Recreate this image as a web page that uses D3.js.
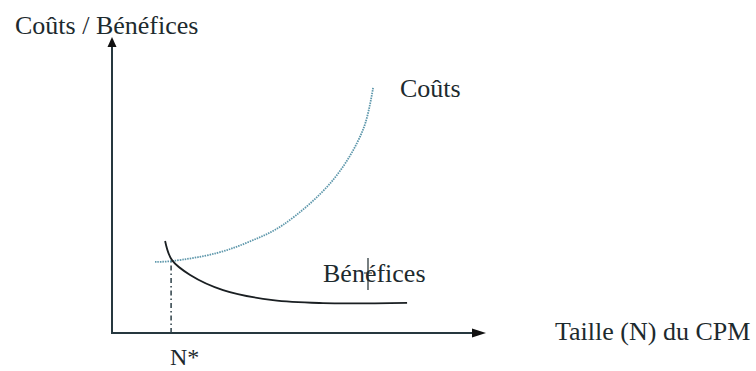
<!DOCTYPE html>
<html>
<head>
<meta charset="utf-8">
<script src="https://cdn.jsdelivr.net/npm/d3@7"></script>
<style>
  html, body { margin: 0; padding: 0; background: #fff; }
  svg text { font-family: "Liberation Serif", "Times New Roman", serif; fill: #1d2a2e; }
</style>
</head>
<body>
<svg id="chart" width="756" height="371"></svg>
<script>
// values (arbitrary units, axis 0..10)
const coutsN    = [1.15, 1.6, 2.8, 3.7, 4.57, 5.91, 6.71, 6.98];
const coutsV    = [2.40, 2.43, 2.70, 3.10, 3.65, 5.17, 6.86, 8.28];
const beneficesN = [1.42, 1.6, 2.09, 2.97, 4.30, 5.64, 7.89];
const beneficesV = [3.11, 2.47, 1.96, 1.45, 1.11, 1.01, 1.02];
const nStar = 1.58;
const nStarV = 2.5;

const labels = {
    yAxis: 'Coûts / Bénéfices',
    xAxis: 'Taille (N) du CPM',
    couts: 'Coûts',
    benefices: 'Bénéfices',
    nStar: 'N*'
};

const svg = d3.select('#chart');

const xScale = d3.scaleLinear().domain([0, 10]).range([112, 486]);
const yScale = d3.scaleLinear().domain([0, 10]).range([333, 37]);

const x0 = xScale(0), y0 = yScale(0);
const xEnd = xScale.range()[1], yEnd = yScale.range()[1];
const axisColor = '#26383f';

// axes
svg.append('line')
    .attr('x1', x0).attr('y1', y0 + 1)
    .attr('x2', x0).attr('y2', yEnd + 8)
    .attr('stroke', axisColor).attr('stroke-width', 2);
svg.append('line')
    .attr('x1', x0 - 1).attr('y1', y0)
    .attr('x2', xEnd - 12).attr('y2', y0)
    .attr('stroke', axisColor).attr('stroke-width', 2);

// arrow heads
svg.append('path')
    .attr('d', `M${x0},${yEnd} L${x0 - 4.5},${yEnd + 10} L${x0 + 4.5},${yEnd + 10} Z`)
    .attr('fill', '#111');
svg.append('path')
    .attr('d', `M${xEnd},${y0} L${xEnd - 14},${y0 - 4.5} L${xEnd - 14},${y0 + 4.5} Z`)
    .attr('fill', '#111');

// N* dash-dot guide
svg.append('line')
    .attr('x1', xScale(nStar)).attr('y1', y0)
    .attr('x2', xScale(nStar)).attr('y2', yScale(nStarV))
    .attr('stroke', '#2d3f47').attr('stroke-width', 1.5)
    .attr('stroke-dasharray', '5,3,1.5,3');

const line = d3.line()
    .x(d => xScale(d[0]))
    .y(d => yScale(d[1]))
    .curve(d3.curveCatmullRom.alpha(0.5));

// costs curve (dotted)
svg.append('path')
    .datum(d3.zip(coutsN, coutsV))
    .attr('d', line)
    .attr('fill', 'none')
    .attr('stroke', '#5d97ab')
    .attr('stroke-width', 1.8)
    .attr('stroke-dasharray', '1.5,1');

// benefits curve (solid)
svg.append('path')
    .datum(d3.zip(beneficesN, beneficesV))
    .attr('d', line)
    .attr('fill', 'none')
    .attr('stroke', '#1a1f22')
    .attr('stroke-width', 1.8);

// labels
svg.append('text').attr('x', 15).attr('y', 34)
    .attr('font-size', 26).text(labels.yAxis);
svg.append('text').attr('x', 555).attr('y', 340)
    .attr('font-size', 26).text(labels.xAxis);
svg.append('text').attr('x', 400).attr('y', 97)
    .attr('font-size', 26).text(labels.couts);
svg.append('text').attr('x', 323).attr('y', 282)
    .attr('font-size', 26).text(labels.benefices);
svg.append('text').attr('x', 170).attr('y', 365)
    .attr('font-size', 24).text(labels.nStar);

// small cursor mark over the "é" of Bénéfices (as in the scan)
svg.append('line')
    .attr('x1', 368).attr('y1', 258).attr('x2', 368).attr('y2', 290)
    .attr('stroke', '#1d2a2e').attr('stroke-width', 1.2);
svg.append('line')
    .attr('x1', 364).attr('y1', 273).attr('x2', 372).attr('y2', 273)
    .attr('stroke', '#1d2a2e').attr('stroke-width', 1);
</script>
</body>
</html>
